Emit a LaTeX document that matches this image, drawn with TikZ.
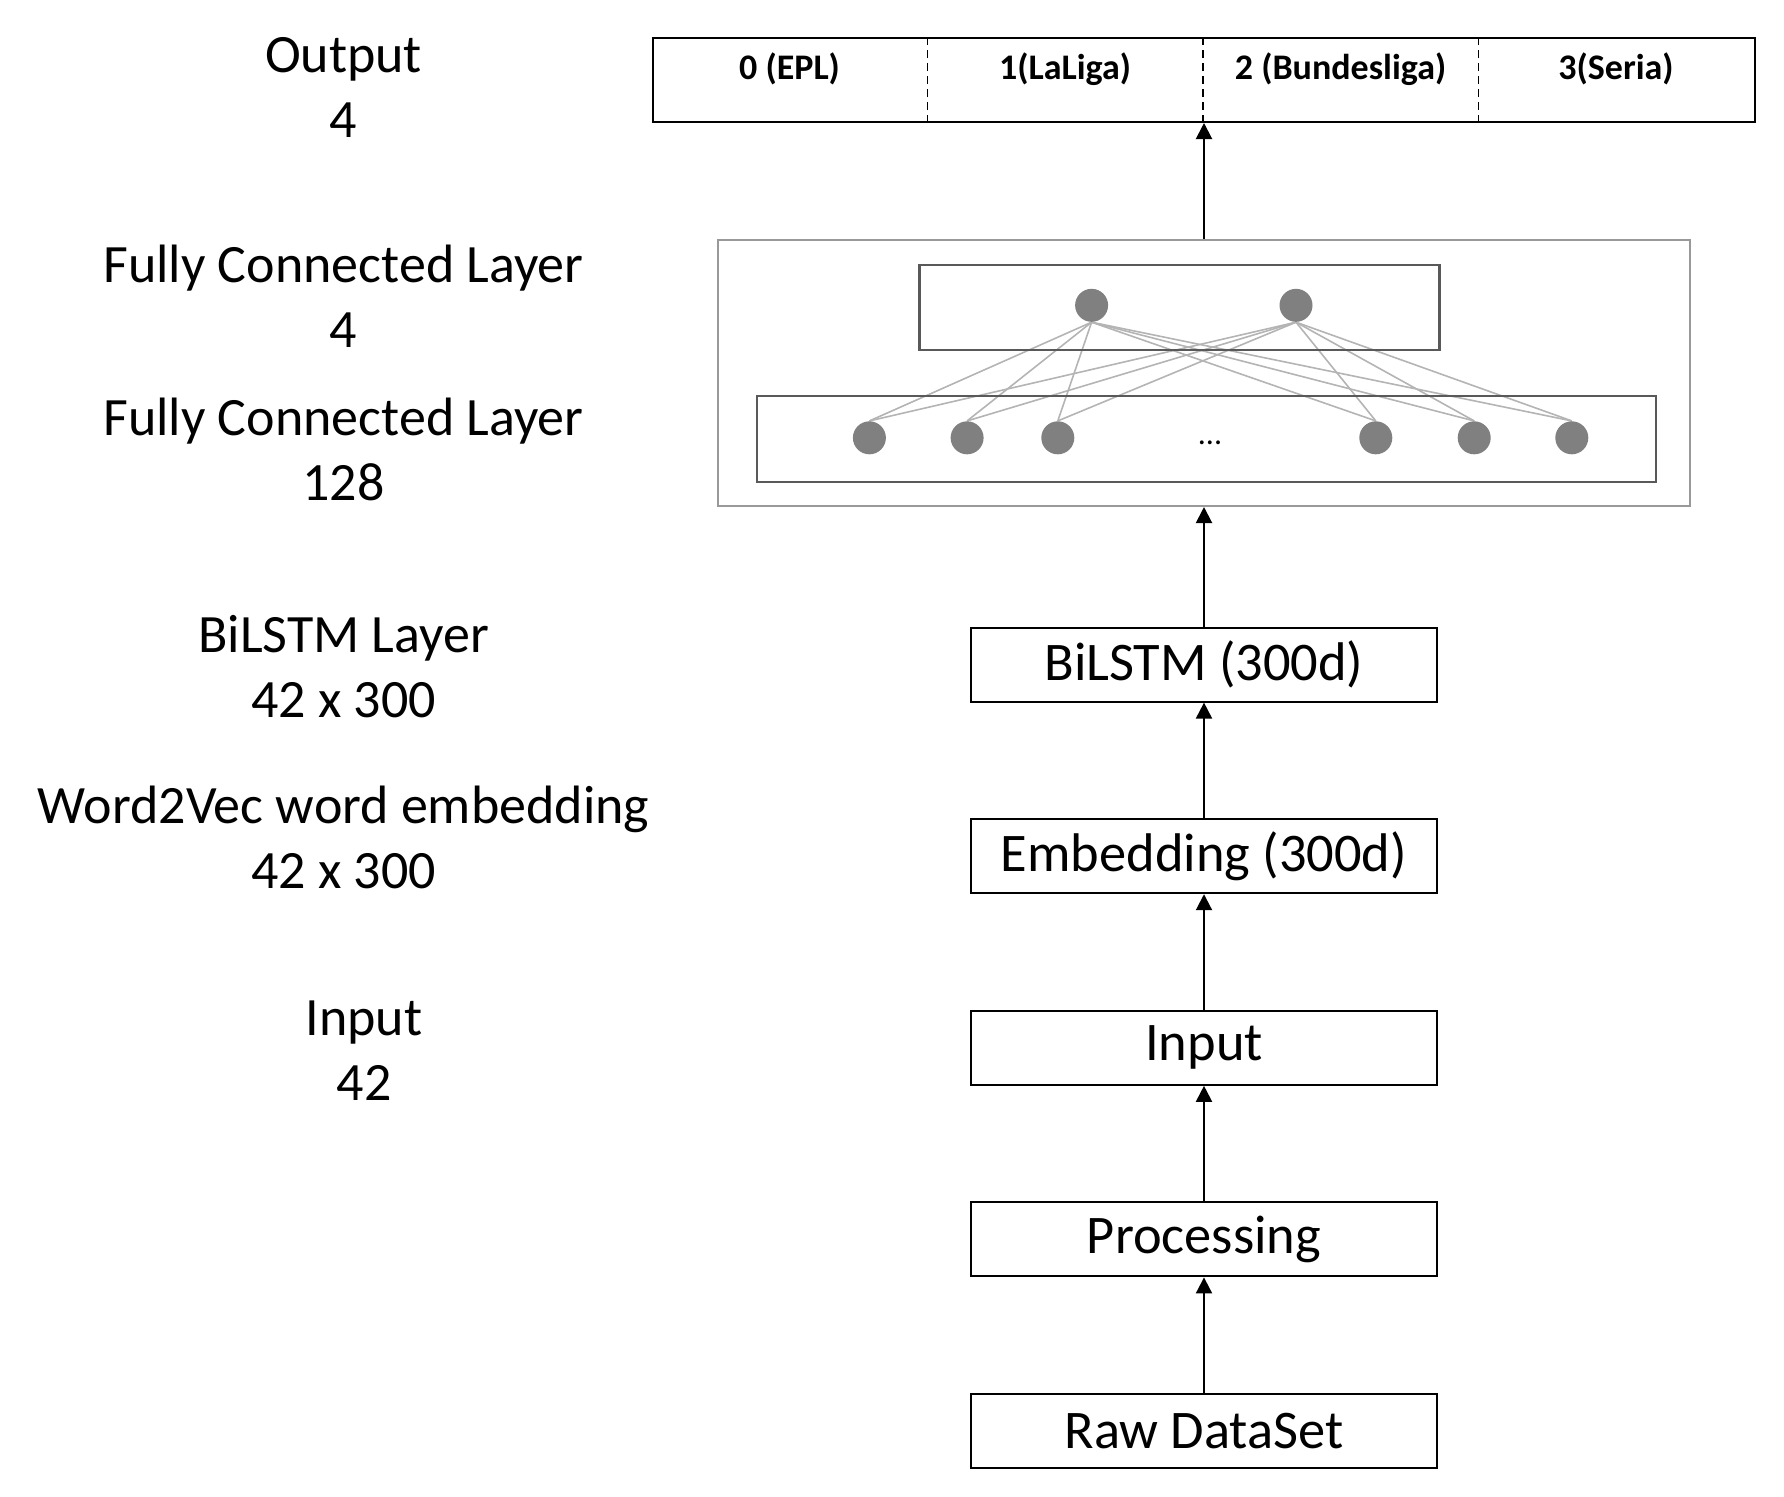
\documentclass[tikz,border=0pt]{standalone}
\usepackage{fontspec}
\setmainfont{Carlito}
\usepackage{tikz}
\usetikzlibrary{arrows.meta,positioning,calc,backgrounds}
\definecolor{netgray}{HTML}{808080}
\definecolor{linkgray}{HTML}{B4B4B4}
\tikzset{
  layer/.style={draw, line width=1pt, minimum width=233pt, minimum height=37pt, inner sep=2pt, align=center, font=\fontsize{27.2}{32}\selectfont},
  fc/outer/.style={draw=black!40, line width=1.2pt, minimum width=485.8pt, minimum height=133pt, inner sep=0pt},
  fc/inner/.style={draw=black!65, line width=1.1pt, inner sep=0pt},
  neuron/.style={circle, fill=netgray, inner sep=0pt, minimum size=16.5pt},
  link/.style={draw=linkgray, line width=0.8pt},
  outbar/.style={draw, line width=1.2pt, minimum width=551pt, minimum height=42pt, inner sep=0pt},
  outcell/.style={font=\fontsize{18}{22}\selectfont\bfseries},
  divider/.style={line width=0.8pt, dash pattern=on 4pt off 2.5pt},
  lbl/.style={align=center, font=\fontsize{27}{32.5}\selectfont},
  arr/.style={-{Triangle[length=8pt,width=8pt]}, line width=1pt}
}
\begin{document}
\begin{tikzpicture}[x=0.5pt, y=-0.5pt, node distance=57.8pt]
\useasboundingbox (0,0) rectangle (1784,1496);
% main stack
\node[layer] (raw) at (1204,1431) {Raw DataSet};
\node[layer, above=of raw] (proc) {Processing};
\node[layer, above=of proc] (input) {Input};
\node[layer, above=of input] (embed) {Embedding (300d)};
\node[layer, above=of embed] (bilstm) {BiLSTM (300d)};
\node[fc/outer, above=59.8pt of bilstm] (fc) {};
\node[outbar, above=of fc] (out) {};
% fully connected part
\begin{scope}[shift={(fc.center)}]
  \node[fc/inner, minimum width=260pt, minimum height=42.7pt] (fc4) at (-24.5,-65.3) {};
  \node[fc/inner, minimum width=449.5pt, minimum height=43.2pt] (fc128) at (2.2,66.2) {};
  \foreach \n/\x in {1/-112.4,2/92}
    \node[neuron] (t\n) at (\x,-67.5) {};
  \foreach \n/\x in {1/-334.6,2/-236.9,3/-146.2,4/171.8,5/270.2,6/367.8}
    \node[neuron] (b\n) at (\x,65) {};
  \node[font=\fontsize{16}{16}\selectfont] (dots) at (6,70) {...};
\end{scope}
\begin{scope}[on background layer]
  \foreach \t in {1,2}
    \foreach \b in {1,...,6}
      \draw[link] (t\t.south) -- (b\b.north);
\end{scope}
% output classes
\foreach \i/\txt in {0/0 (EPL),1/1(LaLiga),2/2 (Bundesliga),3/3(Seria)}
  \node[outcell] (c\i) at ($(out.west)+({(\i+0.5)*275.5},-11)$) {\txt};
\foreach \i in {1,2,3}
  \draw[divider] ($(out.south west)+(\i*275.5,0)$) -- ($(out.north west)+(\i*275.5,0)$);
% arrows
\draw[arr] (raw) -- (proc);
\draw[arr] (proc) -- (input);
\draw[arr] (input) -- (embed);
\draw[arr] (embed) -- (bilstm);
\draw[arr] (bilstm) -- (fc);
\draw[arr] (fc) -- (out);
% left labels
\node[lbl] (l-out) at (343.6,87) {Output\\4};
\node[lbl] (l-fc4) at (343.6,295.8) {Fully Connected Layer\\4};
\node[lbl] (l-fc128) at (343.6,449.4) {Fully Connected Layer\\128};
\node[lbl] (l-bilstm) at (343.6,666.2) {BiLSTM Layer\\42 x 300};
\node[lbl] (l-w2v) at (343.6,837.4) {Word2Vec word embedding\\42 x 300};
\node[lbl] (l-in) at (364,1050.8) {Input\\42};
\end{tikzpicture}
\end{document}
